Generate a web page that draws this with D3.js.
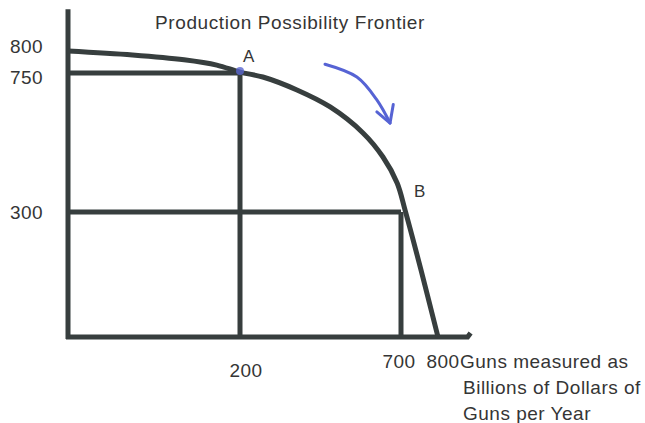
<!DOCTYPE html>
<html>
<head>
<meta charset="utf-8">
<script src="https://cdn.jsdelivr.net/npm/d3@7"></script>
<style>
    body { margin: 0; background: #fff; }
    text { font-family: "Liberation Sans", Arial, sans-serif; fill: #353535; }
</style>
</head>
<body>
<div id="ppfChart"></div>
<script>
// frontier (guns, butter)
const frontierGuns = [0, 75, 135, 173, 200, 271, 377, 480, 582, 644, 688, 711, 754, 800];
const frontierOther = [800, 791, 780, 768, 752, 737, 695, 640, 556, 478, 394, 306, 161, 0];

// labelled points
const pointNames = ["A", "B"];
const pointGuns = [200, 700];
const pointOther = [750, 300];

const xTicks = [200, 700, 800];
const yTicks = [800, 750, 300];

const chartTitle = "Production Possibility Frontier";
const xTitle = ["Guns measured as", "Billions of Dollars of", "Guns per Year"];

// hand drawn arrow along the curve (data space)
const arrowGuns = [464, 563, 625, 666];
const arrowOther = [770, 737, 663, 588];

function renderPPF(selector) {
    const width = 645, height = 423;
    const ink = "#373e3e";

    // the sketch is not to scale, so the scales are piecewise
    const x = d3.scaleLinear()
        .domain([0, 200, 700, 800])
        .range([68, 240, 401, 438]);

    const y = d3.scaleLinear()
        .domain([0, 300, 750, 800])
        .range([337, 212, 73, 51]);

    const svg = d3.select(selector)
        .append("svg")
        .attr("width", width)
        .attr("height", height);

    const frontier = frontierGuns.map((g, i) => ({ guns: g, other: frontierOther[i] }));
    const points = pointNames.map((n, i) => ({ name: n, guns: pointGuns[i], other: pointOther[i] }));

    // guide lines to each point
    points.forEach(p => {
        svg.append("line")
            .attr("x1", x(0)).attr("x2", x(p.guns))
            .attr("y1", y(p.other)).attr("y2", y(p.other))
            .attr("stroke", ink).attr("stroke-width", 5);
        svg.append("line")
            .attr("x1", x(p.guns)).attr("x2", x(p.guns))
            .attr("y1", y(p.other)).attr("y2", y(0))
            .attr("stroke", ink).attr("stroke-width", 5);
    });

    // axes
    svg.append("line")
        .attr("x1", x(0)).attr("x2", x(0))
        .attr("y1", y(895)).attr("y2", y(0) + 2)
        .attr("stroke", ink).attr("stroke-width", 5);

    svg.append("path")
        .attr("d", "M" + (x(0) - 2) + "," + y(0) + "L" + x(880) + "," + y(0) + "L" + (x(880) + 3) + "," + (y(0) - 4))
        .attr("fill", "none")
        .attr("stroke", ink).attr("stroke-width", 5);

    // the frontier
    const line = d3.line()
        .curve(d3.curveCatmullRom.alpha(0.5))
        .x(d => x(d.guns))
        .y(d => y(d.other));

    svg.append("path")
        .attr("d", line(frontier))
        .attr("fill", "none")
        .attr("stroke", ink)
        .attr("stroke-width", 5);

    // blue marker at A
    svg.append("circle")
        .attr("cx", x(pointGuns[0]))
        .attr("cy", y(pointOther[0]) - 2)
        .attr("r", 4)
        .attr("fill", "#5a67cf")
        .attr("opacity", 0.8);

    // blue arrow
    const arrow = arrowGuns.map((g, i) => [x(g), y(arrowOther[i])]);
    svg.append("path")
        .attr("d", d3.line().curve(d3.curveCatmullRom)(arrow))
        .attr("fill", "none")
        .attr("stroke", "#5663d4")
        .attr("stroke-width", 3)
        .attr("stroke-linecap", "round");

    const tip = arrow[arrow.length - 1];
    svg.append("path")
        .attr("d", "M" + x(625) + "," + y(624) + "L" + tip[0] + "," + tip[1] + "L" + x(676) + "," + y(648))
        .attr("fill", "none")
        .attr("stroke", "#5663d4")
        .attr("stroke-width", 3)
        .attr("stroke-linecap", "round")
        .attr("stroke-linejoin", "round");

    // point labels
    svg.selectAll(".ptLabel")
        .data(points)
        .enter().append("text")
        .attr("class", "ptLabel")
        .attr("x", d => x(d.guns) + (d.name === "A" ? 3 : 13))
        .attr("y", d => y(d.other) - (d.name === "A" ? 11 : 15))
        .style("font-size", "17px")
        .text(d => d.name);

    // title
    svg.append("text")
        .attr("x", 290)
        .attr("y", 29)
        .attr("text-anchor", "middle")
        .style("font-size", "19px")
        .style("letter-spacing", "0.6px")
        .text(chartTitle);

    // y tick labels, 800 and 750 pushed apart as in the sketch
    const yNudge = { 800: -4, 750: 5, 300: 1 };
    svg.selectAll(".yTick")
        .data(yTicks)
        .enter().append("text")
        .attr("class", "yTick")
        .attr("x", 43)
        .attr("y", d => y(d) + 6 + yNudge[d])
        .attr("text-anchor", "end")
        .style("font-size", "19px")
        .style("letter-spacing", "0.4px")
        .text(d => d);

    // x tick labels
    const xNudge = { 200: [6, 40], 700: [-2, 31], 800: [5, 31] };
    svg.selectAll(".xTick")
        .data(xTicks)
        .enter().append("text")
        .attr("class", "xTick")
        .attr("x", d => x(d) + xNudge[d][0])
        .attr("y", d => y(0) + xNudge[d][1])
        .attr("text-anchor", "middle")
        .style("font-size", "19px")
        .style("letter-spacing", "0.4px")
        .text(d => d);

    // axis title, wraps under the last tick
    svg.selectAll(".xTitle")
        .data(xTitle)
        .enter().append("text")
        .attr("class", "xTitle")
        .attr("x", (d, i) => i === 0 ? 460 : 463)
        .attr("y", (d, i) => y(0) + 31 + i * 26)
        .style("font-size", "19px")
        .style("letter-spacing", "0.5px")
        .text(d => d);
}

renderPPF("#ppfChart");
</script>
</body>
</html>
